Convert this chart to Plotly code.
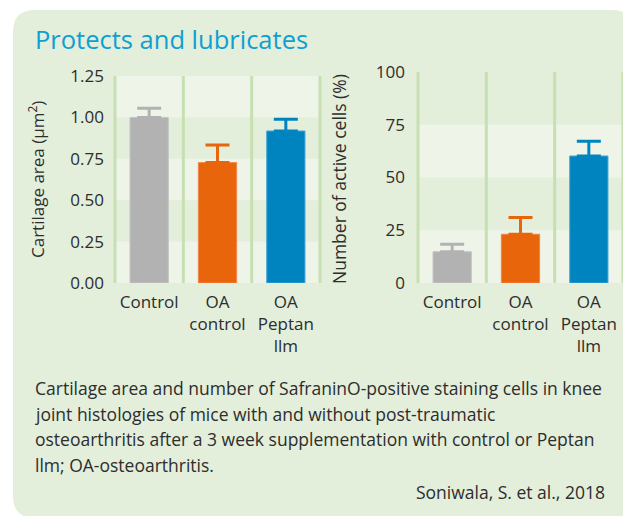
import plotly.graph_objects as go

W, H = 631, 516
OFF = 8  # page body margin of the html page

categories = ["Control", "OA<br>control", "OA<br>Peptan<br>llm"]
cartilage_area = [1.00, 0.727, 0.918]
cartilage_err = [0.055, 0.107, 0.071]
active_cells = [14.8, 23.1, 60.2]
active_err = [3.6, 7.9, 7.0]
area_ticks = [0.0, 0.25, 0.5, 0.75, 1.0, 1.25]
cells_ticks = [0, 25, 50, 75, 100]

bar_colors = ["#b2b2b3", "#e8650c", "#0084bf"]
bar_edges = ["#c4c4c4", "#f0864a", "#4aa9d9"]

FONT = "Open Sans"
TXT = "#2d2d2d"
PANEL = "#e3eedb"
BAND = "#eef5e8"
VLINE = "#c6e0b2"

fig = go.Figure()

def px_x(p):
    return (p - OFF) / W

def px_y(p):
    return 1 - (p - OFF) / H

for i, cat in enumerate(categories):
    fig.add_trace(go.Bar(
        x=[cat], y=[cartilage_area[i]], xaxis="x", yaxis="y", width=0.56,
        marker=dict(color=bar_colors[i], line=dict(color=bar_edges[i], width=1)),
        error_y=dict(type="data", array=[cartilage_err[i]], arrayminus=[0], symmetric=False,
                     color=bar_colors[i], thickness=3, width=12),
        showlegend=False, hoverinfo="skip"))
    fig.add_trace(go.Bar(
        x=[cat], y=[active_cells[i]], xaxis="x2", yaxis="y2", width=0.56,
        marker=dict(color=bar_colors[i], line=dict(color=bar_edges[i], width=1)),
        error_y=dict(type="data", array=[active_err[i]], arrayminus=[0], symmetric=False,
                     color=bar_colors[i], thickness=3, width=12),
        showlegend=False, hoverinfo="skip"))

shapes = []
x0, x1 = px_x(13), px_x(634)
y0, y1 = px_y(518), px_y(10)
rx, ry = 22 / W, 22 / H
path = (f"M {x0+rx},{y1} L {x1-rx},{y1} Q {x1},{y1} {x1},{y1-ry} "
        f"L {x1},{y0+ry} Q {x1},{y0} {x1-rx},{y0} L {x0+rx},{y0} "
        f"Q {x0},{y0} {x0},{y0+ry} L {x0},{y1-ry} Q {x0},{y1} {x0+rx},{y1} Z")
shapes.append(dict(type="path", path=path, xref="paper", yref="paper",
                   fillcolor=PANEL, line=dict(width=0), layer="below"))

for k in range(0, len(area_ticks) - 1, 2):
    shapes.append(dict(type="rect", xref="x domain", yref="y", x0=0, x1=1,
                       y0=area_ticks[k], y1=area_ticks[k + 1],
                       fillcolor=BAND, line=dict(width=0), layer="below"))
for k in range(0, len(cells_ticks) - 1, 2):
    shapes.append(dict(type="rect", xref="x2 domain", yref="y2", x0=0, x1=1,
                       y0=cells_ticks[k], y1=cells_ticks[k + 1],
                       fillcolor=BAND, line=dict(width=0), layer="below"))
for j in range(len(categories) + 1):
    xv = j / len(categories)
    shapes.append(dict(type="line", xref="x domain", yref="y domain", x0=xv, x1=xv, y0=0, y1=1,
                       line=dict(color=VLINE, width=3), layer="below"))
    shapes.append(dict(type="line", xref="x2 domain", yref="y2 domain", x0=xv, x1=xv, y0=0, y1=1,
                       line=dict(color=VLINE, width=3), layer="below"))

annotations = [
    dict(text="Protects and lubricates", xref="paper", yref="paper",
         x=px_x(33), y=px_y(39), xanchor="left", yanchor="middle", showarrow=False,
         font=dict(family=FONT, size=25.5, color="#0e9fd3")),
    dict(text="Cartilage area (µm<sup>2</sup>)", xref="paper", yref="paper",
         x=px_x(37), y=px_y(180), xanchor="center", yanchor="middle", textangle=-90,
         showarrow=False, font=dict(family=FONT, size=17, color=TXT)),
    dict(text="Number of active cells (%)", xref="paper", yref="paper",
         x=px_x(339), y=px_y(179), xanchor="center", yanchor="middle", textangle=-90,
         showarrow=False, font=dict(family=FONT, size=17.5, color=TXT)),
]
caption_lines = [
    "Cartilage area and number of SafraninO-positive staining cells in knee",
    "joint histologies of mice with and without post-traumatic",
    "osteoarthritis after a 3 week supplementation with control or Peptan",
    "llm; OA-osteoarthritis.",
]
for i, line in enumerate(caption_lines):
    annotations.append(dict(text=line, xref="paper", yref="paper",
                            x=px_x(33), y=px_y(388 + i * 25.5), xanchor="left", yanchor="middle",
                            showarrow=False, font=dict(family=FONT, size=17.5, color=TXT)))
annotations.append(dict(text="Soniwala, S. et al., 2018", xref="paper", yref="paper",
                        x=px_x(607), y=px_y(492), xanchor="right", yanchor="middle",
                        showarrow=False, font=dict(family=FONT, size=17.5, color=TXT)))

axis_common = dict(showgrid=False, zeroline=False, showline=False, ticks="", automargin=False,
                   tickfont=dict(family=FONT, size=17, color=TXT))

fig.update_layout(
    template="none",
    width=W, height=H,
    margin=dict(l=0, r=0, t=0, b=0, pad=0),
    paper_bgcolor="white", plot_bgcolor="white",
    barmode="overlay", showlegend=False,
    shapes=shapes, annotations=annotations,
    xaxis=dict(domain=[px_x(115), px_x(320)], anchor="y", type="category",
               categoryorder="array", categoryarray=categories, range=[-0.5, 2.5],
               ticklabelstandoff=7, **axis_common),
    yaxis=dict(domain=[px_y(283), px_y(76)], anchor="x", range=[0, 1.25],
               tickvals=area_ticks, tickformat=".2f", ticklabelstandoff=10, **axis_common),
    xaxis2=dict(domain=[px_x(418), px_x(623)], anchor="y2", type="category",
                categoryorder="array", categoryarray=categories, range=[-0.5, 2.5],
                ticklabelstandoff=7, **axis_common),
    yaxis2=dict(domain=[px_y(283), px_y(72)], anchor="x2", range=[0, 100],
                tickvals=cells_ticks, ticklabelstandoff=12, **axis_common),
)

fig.write_html("out.html")
